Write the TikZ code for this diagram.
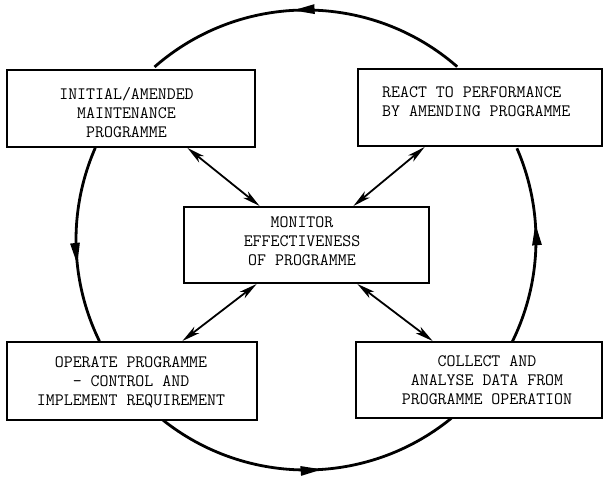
\documentclass[tikz,border=0pt]{standalone}
\usepackage{fontspec}
\usetikzlibrary{arrows.meta,decorations.markings,calc}
\begin{document}
\begin{tikzpicture}[x=1pt,y=1pt,
  box/.style={draw, line width=2pt, fill=white, inner sep=0pt},
  txt/.style={font=\ttfamily\fontsize{17.4}{19}\selectfont, align=center, inner sep=0pt},
  ring/.style={line width=2.8pt, postaction=decorate},
  link/.style={line width=1.8pt, {Stealth[length=18pt,width=8pt,inset=5pt]}-{Stealth[length=18pt,width=8pt,inset=5pt]}},
  midarrow/.style={decoration={markings, mark=at position #1 with {\arrow{Triangle[length=22pt,width=9pt]}}}}
]
\useasboundingbox (0,0) rectangle (603,478);
\coordinate (C) at (306,238);
% cycle arcs
\draw[ring, midarrow=0.54] ($(C)+(48.9:230)$) arc[start angle=48.9, end angle=131.2, radius=230];
\draw[ring, midarrow=0.6] ($(C)+(156.4:230)$) arc[start angle=156.4, end angle=206.1, radius=230];
\draw[ring, midarrow=0.55] ($(C)+(231.3:230)$) arc[start angle=231.3, end angle=309.2, radius=230];
\draw[ring, midarrow=0.615] ($(C)+(333.3:230)$) arc[start angle=333.3, end angle=383.5, radius=230];
% boxes
\node[box, minimum width=248pt, minimum height=77pt] (tl) at (131,369.5) {};
\node[box, minimum width=244pt, minimum height=77pt] (tr) at (480,370.5) {};
\node[box, minimum width=245pt, minimum height=76pt] (mon) at (306.5,233) {};
\node[box, minimum width=250pt, minimum height=78pt] (bl) at (132,97) {};
\node[box, minimum width=246pt, minimum height=76pt] (br) at (479,98) {};
% texts
\node[txt] (tltext) at (126.5,365) {INITIAL/AMENDED\\MAINTENANCE\\PROGRAMME};
\node[txt, align=left, anchor=west] (trtext) at (382,376.5) {REACT TO PERFORMANCE\\BY AMENDING PROGRAMME};
\node[txt] (montext) at (302,237) {MONITOR\\EFFECTIVENESS\\OF PROGRAMME};
\node[txt] (bltext) at (131,96) {OPERATE PROGRAMME\\- CONTROL AND\\IMPLEMENT REQUIREMENT};
\node[txt] (brtext) at (487,98) {COLLECT AND\\ANALYSE DATA FROM\\PROGRAMME OPERATION};
% links to the monitor box
\draw[link] ($(tl.south west)!0.726!(tl.south east)$) -- ($(mon.north west)!0.31!(mon.north east)$);
\draw[link] ($(tr.south west)!0.275!(tr.south east)$) -- ($(mon.north west)!0.69!(mon.north east)$);
\draw[link] ($(mon.south west)!0.298!(mon.south east)$) -- ($(bl.north west)!0.70!(bl.north east)$);
\draw[link] ($(mon.south west)!0.706!(mon.south east)$) -- ($(br.north west)!0.313!(br.north east)$);
\end{tikzpicture}
\end{document}
